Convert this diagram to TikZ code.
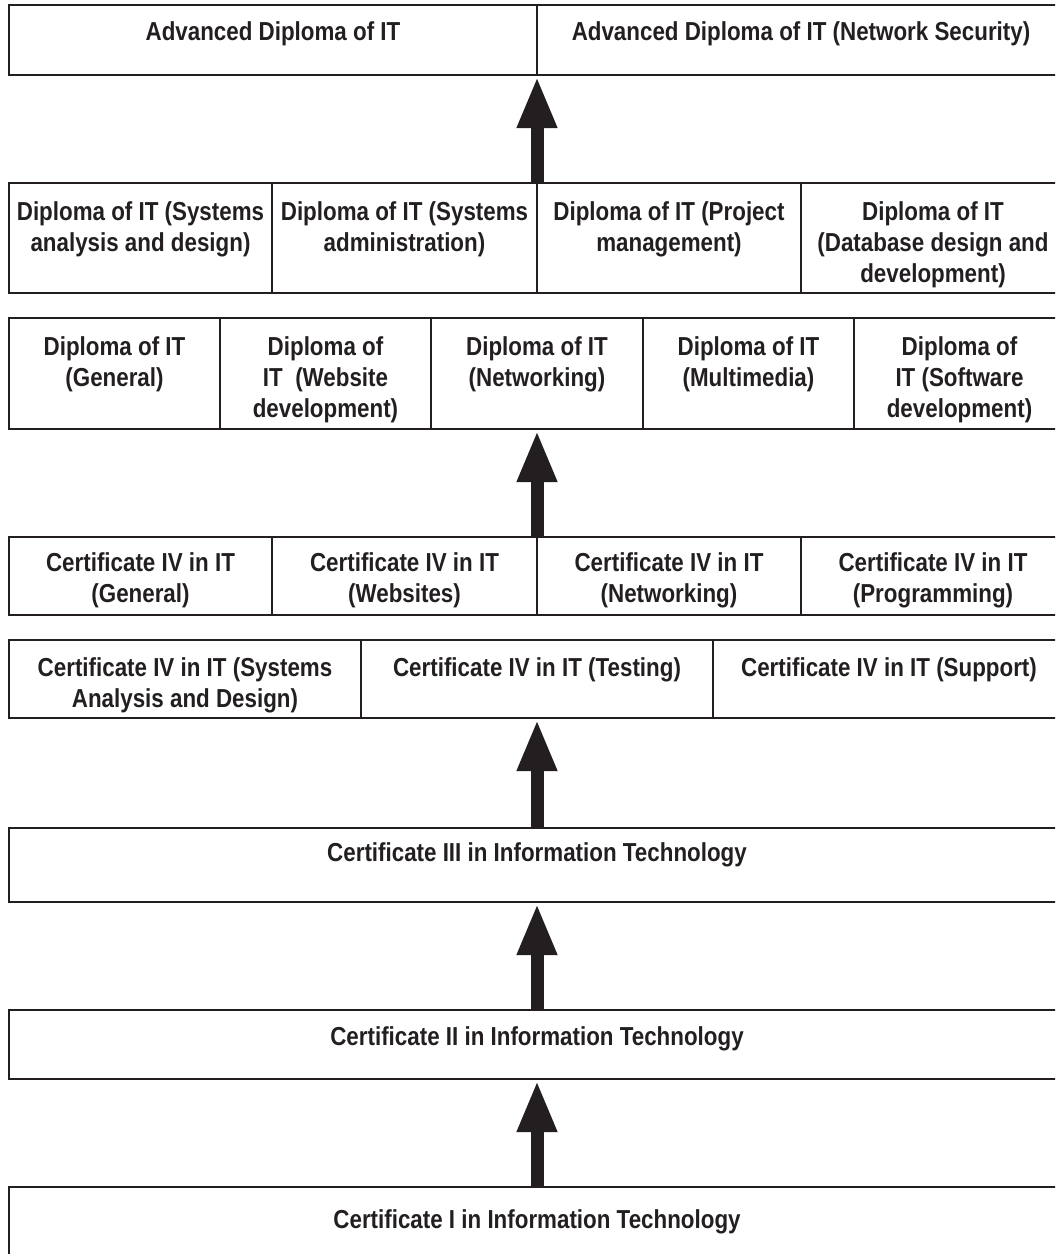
\documentclass[tikz,border=0pt]{standalone}
\usepackage{fontspec}
\setsansfont{Liberation Sans}[FakeStretch=0.86]
\usetikzlibrary{arrows.meta}
\definecolor{ink}{HTML}{231F20}

\begin{document}
\begin{tikzpicture}[x=0.02cm, y=-0.02cm,
		tier/.style={draw=ink, line width=1.4pt, minimum width=21.12cm, inner sep=0pt},
		divider/.style={draw=ink, line width=0.9pt},
		course/.style={anchor=north, inner sep=0pt, align=center, text=ink,
			font=\sffamily\bfseries\fontsize{14.8}{17.6}\selectfont},
		uparrow/.style={draw=ink, fill=ink, line width=0.26cm,
			-{Triangle[width=0.74cm, length=1.04cm]}}]
		% Page
		\useasboundingbox (0,0) rectangle (1055,1254);
		\clip (0,0) rectangle (1055,1254);
		
		% Draw tiers
		\node[tier, minimum height=1.4cm]  (advRow)    at (537,40)     {};
		\node[tier, minimum height=2.2cm]  (dipSpRow)  at (537,238)    {};
		\node[tier, minimum height=2.22cm] (dipRow)    at (537,373.5)  {};
		\node[tier, minimum height=1.56cm] (civRow)    at (537,576)    {};
		\node[tier, minimum height=1.56cm] (civSpRow)  at (537,679)    {};
		\node[tier, minimum height=1.48cm] (ciiiRow)   at (537,865)    {};
		\node[tier, minimum height=1.38cm] (ciiRow)    at (537,1044.5) {};
		\node[tier, minimum height=1.4cm]  (ciRow)     at (537,1222)   {};
		
		% Draw dividers
		\draw[divider] (537,0 |- advRow.north) -- (537,0 |- advRow.south);
		\foreach \x in {272,537,801}
			\draw[divider] (\x,0 |- dipSpRow.north) -- (\x,0 |- dipSpRow.south);
		\foreach \x in {220,431,643,854}
			\draw[divider] (\x,0 |- dipRow.north) -- (\x,0 |- dipRow.south);
		\foreach \x in {272,537,801}
			\draw[divider] (\x,0 |- civRow.north) -- (\x,0 |- civRow.south);
		\foreach \x in {361,713}
			\draw[divider] (\x,0 |- civSpRow.north) -- (\x,0 |- civSpRow.south);
		
		% Draw arrows
		\draw[uparrow] (dipSpRow.north) -- (advRow.south);
		\draw[uparrow] (civRow.north) -- (dipRow.south);
		\draw[uparrow] (ciiiRow.north) -- (civSpRow.south);
		\draw[uparrow] (ciiRow.north) -- (ciiiRow.south);
		\draw[uparrow] (ciRow.north) -- (ciiRow.south);
		
		% Label courses
		\node[course] (advGen) at (273,21) {Advanced Diploma of IT};
		\node[course] (advSec) at (801,21) {Advanced Diploma of IT (Network Security)};
		
		\node[course] (dipSad)  at (140.5,201.5) {Diploma of IT (Systems\\analysis and design)};
		\node[course] (dipAdm)  at (404.5,201.5) {Diploma of IT (Systems\\administration)};
		\node[course] (dipProj) at (669,201.5)   {Diploma of IT (Project\\management)};
		\node[course] (dipDb)   at (933,201.5)   {Diploma of IT\\(Database design and\\development)};
		
		\node[course] (dipGen)  at (114.5,336) {Diploma of IT\\(General)};
		\node[course] (dipWeb)  at (325.5,336) {Diploma of\\IT\ \ (Website\\development)};
		\node[course] (dipNet)  at (537,336)   {Diploma of IT\\(Networking)};
		\node[course] (dipMm)   at (748.5,336) {Diploma of IT\\(Multimedia)};
		\node[course] (dipSw)   at (959.5,336) {Diploma of\\IT (Software\\development)};
		
		\node[course] (civGen)  at (140.5,552) {Certificate IV in IT\\(General)};
		\node[course] (civWeb)  at (404.5,552) {Certificate IV in IT\\(Websites)};
		\node[course] (civNet)  at (669,552)   {Certificate IV in IT\\(Networking)};
		\node[course] (civProg) at (933,552)   {Certificate IV in IT\\(Programming)};
		
		\node[course] (civSad)  at (185,657) {Certificate IV in IT (Systems\\Analysis and Design)};
		\node[course] (civTest) at (537,657) {Certificate IV in IT (Testing)};
		\node[course] (civSup)  at (889,657) {Certificate IV in IT (Support)};
		
		\node[course] (ciii) at (537,842)  {Certificate III in Information Technology};
		\node[course] (cii)  at (537,1026) {Certificate II in Information Technology};
		\node[course] (ci)   at (537,1209) {Certificate I in Information Technology};
	\end{tikzpicture}
\end{document}
